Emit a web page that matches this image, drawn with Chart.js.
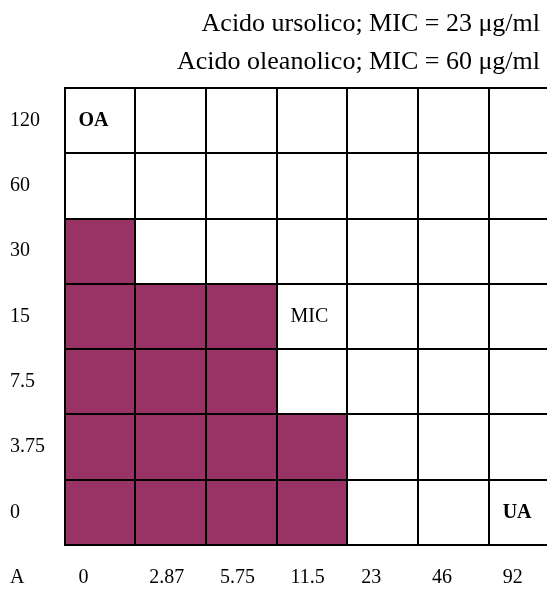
<!DOCTYPE html>
<html>
<head>
<meta charset="utf-8">
<script src="https://cdn.jsdelivr.net/npm/chart.js@4.4.1/dist/chart.umd.min.js"></script>
<style>
  html, body { margin: 0; padding: 0; background: #ffffff; }
  canvas { display: block; }
</style>
</head>
<body>
<canvas id="c" width="547" height="592"></canvas>
<script>
// ---- data ----
const titleLines = ['Acido ursolico; MIC = 23 \u03BCg/ml', 'Acido oleanolico; MIC = 60 \u03BCg/ml'];
const xLabels = ['0', '2.87', '5.75', '11.5', '23', '46', '92'];      // ursolic acid (UA)
const yLabels = ['0', '3.75', '7.5', '15', '30', '60', '120'];        // oleanolic acid (OA), bottom -> top
const cornerLabel = 'A';
const filledRows = [5, 4, 4, 2, 0, 0, 0];                             // filled wells per column, from bottom
const cellNotes = [
  { x: '0',    y: '120', text: 'OA',  bold: true },
  { x: '11.5', y: '15',  text: 'MIC', bold: false },
  { x: '92',   y: '0',   text: 'UA',  bold: true }
];

// ---- styles ----
const SERIF = '"Liberation Serif", "Times New Roman", Times, serif';
const PLUM = '#993366';
const TICK_SIZE = 20;
const TEXT_INSET = 14;

const notesPlugin = {
  id: 'notes',
  afterDraw(chart) {
    const ctx = chart.ctx;
    const xs = chart.scales.x;
    const yc = chart.scales.yCat;
    ctx.save();
    ctx.fillStyle = '#000';
    // texts inside cells
    ctx.textAlign = 'left';
    ctx.textBaseline = 'middle';
    cellNotes.forEach(n => {
      const xi = xLabels.indexOf(n.x);
      const yi = yLabels.indexOf(n.y);
      ctx.font = (n.bold ? 'bold ' : '') + TICK_SIZE + 'px ' + SERIF;
      ctx.fillText(n.text, xs.getPixelForValue(xi) + TEXT_INSET, yc.getPixelForValue(yi));
    });
    // corner label in the x-label row
    const items = xs.getLabelItems();
    if (items && items.length) {
      const it = items[0];
      ctx.font = TICK_SIZE + 'px ' + SERIF;
      ctx.textBaseline = it.options.textBaseline || 'middle';
      ctx.fillText(cornerLabel, yc.left, it.options.translation[1] + (it.textOffset || 0));
    }
    // title lines, right aligned
    ctx.font = '26px ' + SERIF;
    ctx.textAlign = 'right';
    ctx.textBaseline = 'alphabetic';
    titleLines.forEach((t, i) => ctx.fillText(t, 540, 31 + 38 * i));
    ctx.restore();
  }
};

new Chart(document.getElementById('c'), {
  type: 'bar',
  data: {
    datasets: [{
      data: filledRows.map((n, i) => ({ x: i + 0.5, y: n })),
      backgroundColor: PLUM,
      borderWidth: 0,
      barPercentage: 1,
      categoryPercentage: 1,
      xAxisID: 'x',
      yAxisID: 'y'
    }]
  },
  options: {
    responsive: false,
    animation: false,
    devicePixelRatio: 1,
    layout: { padding: { left: 10, top: 88, right: 0, bottom: 0 } },
    plugins: {
      legend: { display: false },
      tooltip: { enabled: false },
      title: { display: false }
    },
    scales: {
      x: {
        type: 'linear',
        position: 'bottom',
        offset: false,
        min: 0,
        max: 6.825,
        afterBuildTicks: s => { s.ticks = xLabels.map((_, i) => ({ value: i })); },
        grid: { color: '#000', lineWidth: 2, drawTicks: false, offset: false, z: 1 },
        border: { color: '#000', width: 2, z: 1 },
        ticks: {
          callback: (v, i) => xLabels[i],
          align: 'start',
          labelOffset: TEXT_INSET,
          padding: 21,
          maxRotation: 0,
          autoSkip: false,
          color: '#000',
          font: { family: SERIF, size: TICK_SIZE }
        },
        afterFit: s => { s.height = 47; }
      },
      y: { type: 'linear', display: false, min: 0, max: yLabels.length },
      yCat: {
        type: 'category',
        labels: yLabels,
        reverse: true,
        offset: true,
        position: 'left',
        grid: { color: '#000', lineWidth: 2, drawTicks: false, offset: true, z: 1 },
        border: { color: '#000', width: 2, z: 1 },
        ticks: {
          crossAlign: 'far',
          padding: 0,
          autoSkip: false,
          color: '#000',
          font: { family: SERIF, size: TICK_SIZE }
        },
        afterFit: s => { s.width = 54.5; }
      }
    }
  },
  plugins: [notesPlugin]
});
</script>
</body>
</html>
